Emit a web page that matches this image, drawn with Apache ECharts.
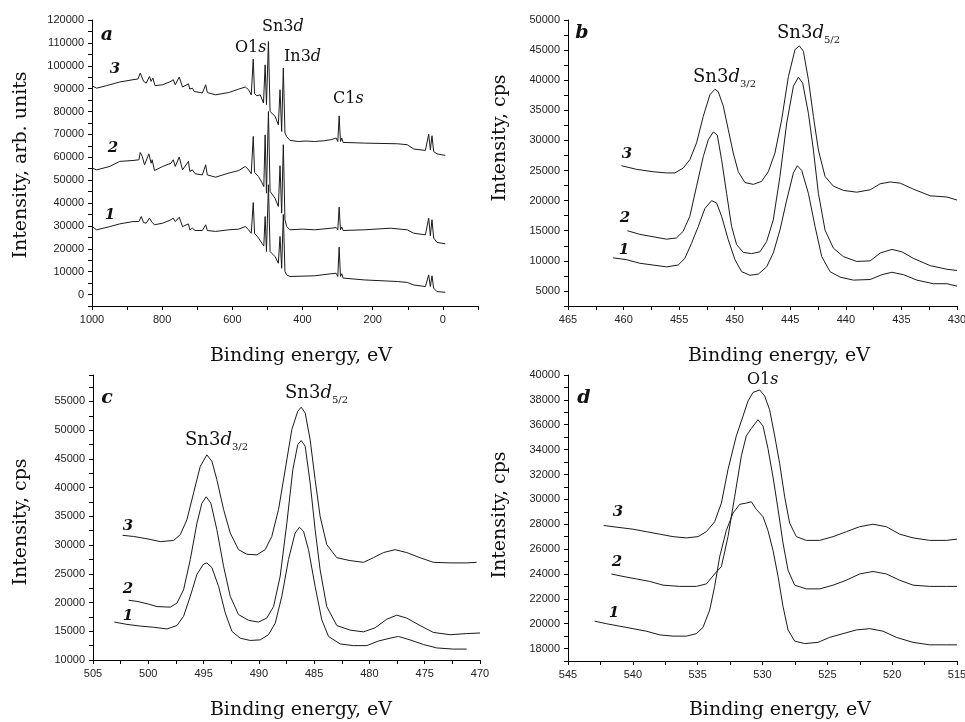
<!DOCTYPE html>
<html>
<head>
<meta charset="utf-8">
<script src="https://cdn.jsdelivr.net/npm/echarts@6/dist/echarts.min.js"></script>
<style>
html, body { margin: 0; background: #fff; }
#main { width: 965px; height: 722px; }
</style>
</head>
<body>
<div id="main"></div>
<script>
// a: survey spectra, [binding energy, intensity]
var surv3 = [[1000,91300],[986.8,90200],[958.6,91300],[920.9,92900],[883.2,93900],[869.1,94200],[862.5,96800],[853.1,93200],[845.6,92400],[836.2,95300],[831.5,93200],[826.7,94600],[820.2,91300],[798.5,91700],[775.0,93200],[768.4,93900],[762.7,91700],[751.4,95100],[742.0,90700],[725.1,92100],[721.3,89800],[713.8,90200],[709.0,88800],[685.5,88100],[676.1,91700],[671.4,88300],[647.8,87300],[610.2,88300],[581.9,89800],[563.1,90700],[553.7,89500],[546.2,87300],[540.5,102900],[536.7,87800],[530.1,86900],[520.7,87300],[511.3,83700],[506.6,100400],[502.8,83000],[497.2,110600],[492.5,80000],[487.8,79300],[478.4,77900],[468.9,74200],[464.2,89500],[459.5,71300],[454.8,99000],[450.1,70600],[445.4,69100],[436.0,67400],[412.4,66900],[407.7,67700],[390,67100],[365.4,66900],[340,67200],[318.3,67700],[304.2,68400],[299.5,66900],[295.7,78100],[291.9,66900],[288.2,68400],[284.4,66500],[224.1,66200],[129.9,65900],[101.7,65500],[82.9,63600],[49.9,63000],[45.2,63600],[40.5,70100],[35.8,63300],[31.1,69400],[26.4,62500],[17.0,61500],[-6.6,60800]];
var surv2 = [[1000,55300],[986.8,54500],[949.2,56000],[920.9,58200],[883.2,58600],[866.3,58900],[862.5,62100],[856.9,60400],[850.3,56700],[838.0,61500],[831.5,57400],[828.6,58900],[822.0,54200],[798.5,56000],[775.0,57400],[768.4,58900],[762.7,56000],[751.4,60100],[742.0,54500],[725.1,58200],[721.3,53800],[713.8,54500],[706.2,52800],[685.5,52300],[676.1,56700],[671.4,52300],[647.8,51300],[610.2,53100],[581.9,54200],[563.1,56000],[553.7,54500],[546.2,52800],[540.5,69100],[536.7,53400],[525.4,51600],[516.0,49000],[510.4,47200],[506.6,69800],[502.8,44300],[497.2,80000],[492.5,45100],[487.8,44300],[478.4,42100],[468.9,38500],[464.2,56300],[459.5,35600],[454.8,65500],[450.1,32700],[445.4,29800],[436.0,28300],[400,28600],[365.4,28300],[318.3,29000],[304.2,29300],[299.5,28300],[295.7,38200],[291.9,28300],[288.2,29500],[284.4,28000],[224.1,28300],[148.8,29000],[101.7,28300],[82.9,26800],[49.9,26100],[40.5,33400],[35.8,25700],[31.1,32700],[26.4,24700],[17.0,22800],[-6.6,22200]];
var surv1 = [[1000,29700],[986.8,28300],[949.2,29700],[920.9,30900],[883.2,31900],[866.3,31900],[859.7,34100],[853.1,31500],[845.6,31200],[836.2,33400],[828.6,31500],[822.0,30500],[798.5,31200],[775.0,32700],[768.4,33400],[762.7,31900],[751.4,33800],[742.0,29700],[725.1,30900],[721.3,28300],[713.8,29000],[706.2,28000],[685.5,28000],[676.1,30500],[671.4,28000],[647.8,27600],[610.2,28300],[581.9,28600],[563.1,29700],[553.7,28300],[546.2,26800],[540.5,40200],[536.7,26800],[525.4,24700],[516.0,22500],[510.4,21300],[506.6,34100],[502.8,18800],[497.2,48000],[492.5,18800],[487.8,18100],[478.4,16600],[468.9,13700],[464.2,25400],[459.5,11500],[454.8,35000],[450.1,10100],[445.4,8600],[436.0,7900],[365.4,8200],[318.3,9100],[304.2,9300],[299.5,7900],[295.7,20700],[291.9,7900],[288.2,9100],[284.4,7200],[224.1,6400],[129.9,5700],[101.7,5300],[82.9,4200],[49.9,3500],[40.5,8600],[35.8,3500],[31.1,8200],[26.4,2800],[17.0,1300],[-6.6,1000]];

// b: Sn3d, sample set one
var snA3 = [[460.19,25800],[458.84,25200],[457.34,24800],[456.14,24600],[455.39,24600],[454.64,25400],[454.04,26800],[453.43,29600],[452.83,34000],[452.23,37600],[451.78,38500],[451.48,38100],[451.03,35700],[450.58,31800],[450.13,27900],[449.68,24800],[449.08,23000],[448.33,22700],[447.58,23200],[446.98,24800],[446.38,27900],[445.78,33400],[445.17,40600],[444.57,45100],[444.18,45700],[443.82,44800],[443.37,40100],[442.92,34000],[442.47,28400],[441.87,24000],[441.12,22400],[440.22,21700],[439.02,21400],[437.81,21800],[436.91,22800],[436.01,23100],[435.11,22900],[433.91,21900],[432.41,20800],[430.91,20600],[430.0,20100]];
var snA2 = [[459.65,15000],[458.54,14400],[457.34,14000],[456.14,13600],[455.24,13800],[454.64,14900],[454.04,17400],[453.43,22400],[452.83,27300],[452.38,30100],[451.93,31400],[451.57,30900],[451.18,26800],[450.73,21200],[450.28,15700],[449.83,12700],[449.23,11400],[448.48,11200],[447.73,11500],[447.13,13200],[446.53,16800],[445.93,24000],[445.32,32900],[444.72,39000],[444.27,40500],[443.88,39500],[443.37,34500],[442.92,28400],[442.47,21200],[441.87,15100],[441.12,12100],[440.22,10700],[439.02,9900],[437.81,10000],[436.91,11300],[435.86,11900],[434.96,11500],[433.91,10400],[432.41,9200],[430.91,8600],[430.0,8400]];
var snA1 = [[460.94,10500],[459.74,10200],[458.54,9600],[457.34,9300],[456.14,9000],[455.09,9300],[454.49,10400],[453.89,12900],[453.28,15700],[452.68,18700],[452.08,20000],[451.63,19600],[451.18,17400],[450.58,13500],[449.98,10200],[449.38,8200],[448.63,7600],[447.87,7800],[447.13,9000],[446.53,11300],[445.93,15100],[445.32,20100],[444.72,24600],[444.36,25800],[443.97,25000],[443.37,21200],[442.77,15700],[442.17,10700],[441.42,8200],[440.52,7300],[439.32,6800],[437.81,6900],[436.76,7700],[435.86,8100],[434.81,7700],[433.61,6800],[432.11,6200],[430.91,6200],[430.0,5800]];

// c: Sn3d, sample set two
var snB3 = [[502.32,31700],[501.33,31500],[500.12,31100],[498.92,30600],[497.71,30800],[497.11,31800],[496.51,34400],[495.90,39100],[495.30,43700],[494.70,45700],[494.25,44600],[493.80,41400],[493.19,36200],[492.59,32100],[491.84,29200],[491.08,28400],[490.18,28300],[489.43,29200],[488.83,31500],[488.22,36200],[487.62,43100],[487.02,50100],[486.48,53300],[486.17,54000],[485.81,53000],[485.36,48300],[484.91,41400],[484.46,35000],[483.86,30100],[482.95,27800],[481.75,27300],[480.54,27000],[479.64,27800],[478.73,28700],[477.68,29200],[476.63,28700],[475.42,27800],[474.22,27000],[472.71,26900],[471.20,26900],[470.30,27000]];
var snB2 = [[501.78,20400],[501.02,20200],[500.12,19800],[499.22,19300],[498.01,19200],[497.41,19900],[496.81,22200],[496.20,27500],[495.60,33800],[495.15,37300],[494.76,38400],[494.34,37300],[493.80,32700],[493.19,26300],[492.59,21100],[491.84,17900],[490.93,16900],[490.03,16600],[489.28,17300],[488.67,19300],[488.07,24600],[487.47,33800],[486.93,43100],[486.48,47500],[486.17,48200],[485.81,47200],[485.36,40800],[484.91,32700],[484.46,25700],[483.86,19300],[482.95,16000],[481.75,15200],[480.54,14900],[479.49,15600],[478.43,17100],[477.53,17800],[476.63,17300],[475.42,16000],[474.22,14800],[472.71,14400],[471.20,14600],[470.0,14700]];
var snB1 = [[503.07,16600],[501.93,16200],[500.72,15900],[499.52,15700],[498.31,15400],[497.41,16000],[496.81,17600],[496.20,21100],[495.60,24900],[495.0,26700],[494.70,26900],[494.25,26100],[493.64,22800],[493.04,18200],[492.44,15000],[491.69,13800],[490.78,13400],[489.88,13500],[489.13,14400],[488.52,16400],[487.92,21100],[487.32,27500],[486.72,32100],[486.33,33100],[485.96,32400],[485.51,29200],[484.91,22800],[484.31,17000],[483.70,14100],[482.65,12800],[481.45,12500],[480.24,12500],[479.19,13300],[478.13,13800],[477.38,14100],[476.33,13500],[475.12,12700],[473.92,12100],[472.41,11900],[471.20,11900]];

// d: O1s
var o3 = [[542.25,27900],[541.53,27800],[540.76,27700],[539.99,27600],[538.96,27400],[537.93,27200],[536.90,27000],[535.87,26900],[534.97,27000],[534.33,27400],[533.69,28200],[533.17,29700],[532.66,32400],[532.02,35100],[531.50,36700],[531.12,37900],[530.73,38600],[530.22,38800],[529.83,38300],[529.45,37200],[529.06,35100],[528.68,32900],[528.29,30200],[527.91,28100],[527.39,27000],[526.62,26700],[525.59,26700],[524.56,27000],[523.53,27400],[522.51,27800],[521.48,28000],[520.45,27800],[519.42,27200],[518.39,26900],[517.11,26700],[515.82,26700],[515.0,26800]];
var o2 = [[541.66,24000],[540.76,23800],[539.73,23600],[538.70,23400],[537.67,23100],[536.39,23000],[535.10,23000],[534.33,23200],[533.69,24000],[533.17,24600],[532.66,27000],[532.15,30200],[531.63,33500],[531.25,35100],[530.86,35700],[530.35,36400],[529.96,35900],[529.58,34100],[529.19,31800],[528.80,29200],[528.42,26500],[528.03,24300],[527.52,23100],[526.62,22800],[525.59,22800],[524.56,23100],[523.53,23500],[522.51,24000],[521.48,24200],[520.45,24000],[519.42,23500],[518.39,23100],[517.11,23000],[515.82,23000],[515.0,23000]];
var o1 = [[542.94,20200],[542.04,20000],[541.02,19800],[539.99,19600],[538.96,19400],[537.93,19100],[536.90,19000],[535.87,19000],[535.10,19200],[534.59,19700],[534.07,21100],[533.69,23000],[533.30,25400],[532.79,27500],[532.27,28900],[531.76,29600],[531.25,29700],[530.86,29800],[530.48,29200],[529.96,28600],[529.58,27500],[529.19,25900],[528.80,23800],[528.42,21400],[528.03,19500],[527.52,18600],[526.75,18400],[525.72,18500],[524.82,18900],[523.79,19200],[522.76,19500],[521.73,19600],[520.71,19400],[519.68,18900],[518.39,18500],[517.11,18300],[515.82,18300],[515.0,18300]];

var tickFont = 'Liberation Sans';
var serif = 'DejaVu Serif';

function xAx(g, min, max, step, labelStep) {
    return {
        type: 'value', gridIndex: g, min: min, max: max, interval: step, inverse: true,
        axisLine: { show: true, onZero: false, lineStyle: { color: '#000', width: 1 } },
        axisTick: { show: true, length: 4, lineStyle: { color: '#000' } },
        splitLine: { show: false },
        axisLabel: {
            margin: 8, color: '#222', fontFamily: tickFont, fontSize: 11,
            showMinLabel: true, showMaxLabel: true,
            formatter: function (v) { return Math.abs(v % labelStep) < 1e-6 ? String(v) : ''; }
        }
    };
}
function yAx(g, min, max, step, labelStep) {
    return {
        type: 'value', gridIndex: g, min: min, max: max, interval: step,
        axisLine: { show: true, onZero: false, lineStyle: { color: '#000', width: 1 } },
        axisTick: { show: true, length: 4, lineStyle: { color: '#000' } },
        splitLine: { show: false },
        axisLabel: {
            margin: 8, color: '#222', fontFamily: tickFont, fontSize: 11,
            showMinLabel: true, showMaxLabel: true,
            formatter: function (v) { return Math.abs(v % labelStep) < 1e-6 ? String(v) : ''; }
        }
    };
}
function line(g, data) {
    return {
        type: 'line', xAxisIndex: g, yAxisIndex: g, data: data,
        showSymbol: false, symbol: 'none', smooth: false,
        lineStyle: { color: '#1a1a1a', width: 1 }
    };
}
function txt(x, y, s, font, opts) {
    var st = { text: s, font: font, fill: '#111', align: 'center', verticalAlign: 'middle' };
    var el = { type: 'text', x: x, y: y, style: st, silent: true };
    if (opts && opts.rotation) el.rotation = opts.rotation;
    if (opts && opts.align) st.align = opts.align;
    return el;
}
// peak label with italic orbital letter and optional subscript
function peak(x, y, base, ital, tail, sub, size) {
    var t = '{n|' + base + '}{i|' + ital + '}' + (tail ? '{n|' + tail + '}' : '') + (sub ? '{s|' + sub + '}' : '');
    return {
        type: 'text', x: x, y: y, silent: true,
        style: {
            text: t, align: 'left', verticalAlign: 'middle', fill: '#111',
            rich: {
                n: { fontFamily: serif, fontSize: size, lineHeight: size + 6, fill: '#111' },
                i: { fontFamily: serif, fontSize: size, fontStyle: 'italic', lineHeight: size + 6, fill: '#111' },
                s: { fontFamily: serif, fontSize: 10, verticalAlign: 'bottom', lineHeight: size + 6, fill: '#111' }
            }
        }
    };
}

var chart = echarts.init(document.getElementById('main'), null, { renderer: 'canvas' });
var bold = 'italic bold 19px ' + serif;
var num = 'italic bold 15px ' + serif;
var title = '19px ' + serif;

chart.setOption({
    animation: false,
    backgroundColor: '#fff',
    grid: [
        { left: 92, top: 20, width: 386, height: 286, outerBoundsMode: 'none' },
        { left: 568, top: 20, width: 389, height: 286, outerBoundsMode: 'none' },
        { left: 93, top: 375, width: 387, height: 285, outerBoundsMode: 'none' },
        { left: 568, top: 375, width: 389, height: 286, outerBoundsMode: 'none' }
    ],
    xAxis: [
        xAx(0, -100, 1000, 100, 200),
        xAx(1, 430, 465, 2.5, 5),
        xAx(2, 470, 505, 2.5, 5),
        xAx(3, 515, 545, 2.5, 5)
    ],
    yAxis: [
        yAx(0, -5000, 120000, 5000, 10000),
        yAx(1, 2500, 50000, 2500, 5000),
        yAx(2, 10000, 59600, 2500, 5000),
        yAx(3, 17000, 40000, 1000, 2000)
    ],
    series: [
        line(0, surv3), line(0, surv2), line(0, surv1),
        line(1, snA3), line(1, snA2), line(1, snA1),
        line(2, snB3), line(2, snB2), line(2, snB1),
        line(3, o3), line(3, o2), line(3, o1)
    ],
    graphic: [
        txt(301, 356, 'Binding energy, eV', title),
        txt(779, 356, 'Binding energy, eV', title),
        txt(301, 710, 'Binding energy, eV', title),
        txt(780, 710, 'Binding energy, eV', title),
        txt(21, 165, 'Intensity, arb. units', title, { rotation: Math.PI / 2 }),
        txt(500, 138, 'Intensity, cps', title, { rotation: Math.PI / 2 }),
        txt(21, 522, 'Intensity, cps', title, { rotation: Math.PI / 2 }),
        txt(500, 515, 'Intensity, cps', title, { rotation: Math.PI / 2 }),
        txt(107, 35, 'a', bold), txt(582, 33, 'b', bold),
        txt(107, 398, 'c', bold), txt(584, 398, 'd', bold),
        txt(115, 69, '3', num), txt(113, 148, '2', num), txt(110, 215, '1', num),
        txt(627, 154, '3', num), txt(625, 218, '2', num), txt(624, 250, '1', num),
        txt(128, 526, '3', num), txt(128, 589, '2', num), txt(128, 616, '1', num),
        txt(618, 512, '3', num), txt(617, 562, '2', num), txt(614, 613, '1', num),
        peak(235, 48, 'O1', 's', '', '', 16),
        peak(262, 27, 'Sn3', 'd', '', '', 16),
        peak(284, 57, 'In3', 'd', '', '', 16),
        peak(333, 99, 'C1', 's', '', '', 16),
        peak(693, 77, 'Sn3', 'd', '', '3/2', 18),
        peak(777, 33, 'Sn3', 'd', '', '5/2', 18),
        peak(185, 440, 'Sn3', 'd', '', '3/2', 18),
        peak(285, 393, 'Sn3', 'd', '', '5/2', 18),
        peak(747, 380, 'O1', 's', '', '', 16)
    ]
});
</script>
</body>
</html>
